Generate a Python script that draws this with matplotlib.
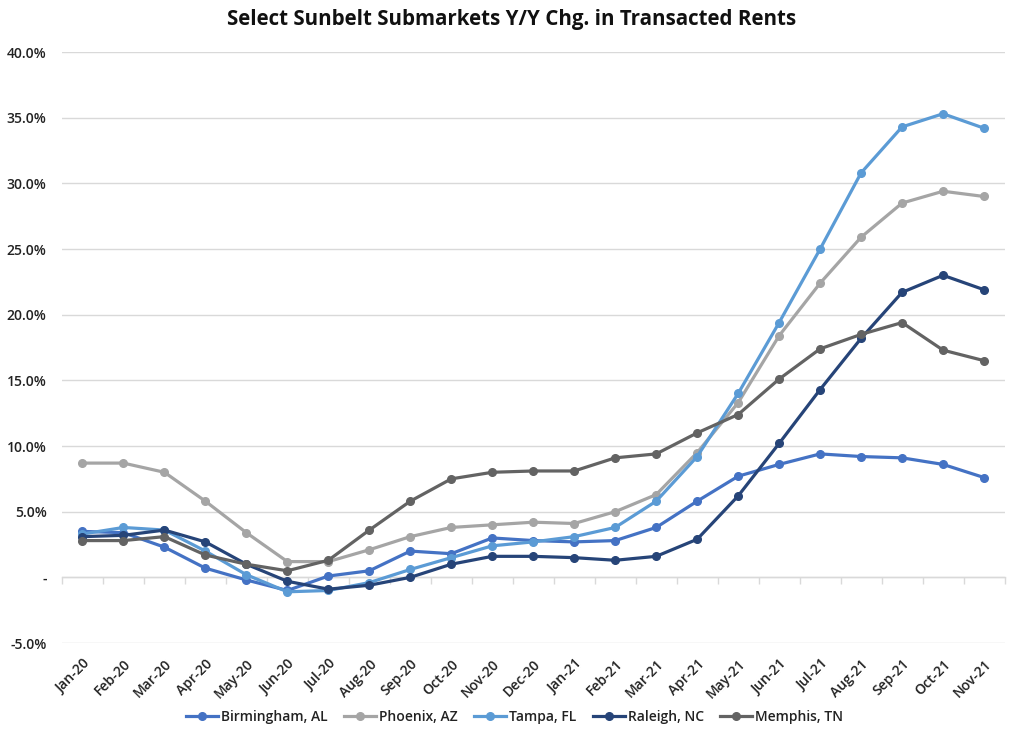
import matplotlib
matplotlib.use("Agg")
import matplotlib.pyplot as plt
from matplotlib.ticker import FuncFormatter

months = ["Jan-20", "Feb-20", "Mar-20", "Apr-20", "May-20", "Jun-20", "Jul-20", "Aug-20",
          "Sep-20", "Oct-20", "Nov-20", "Dec-20", "Jan-21", "Feb-21", "Mar-21", "Apr-21",
          "May-21", "Jun-21", "Jul-21", "Aug-21", "Sep-21", "Oct-21", "Nov-21"]

birmingham = [3.5, 3.4, 2.3, 0.7, -0.2, -1.0, 0.1, 0.5, 2.0, 1.8, 3.0, 2.8, 2.7, 2.8,
              3.8, 5.8, 7.7, 8.6, 9.4, 9.2, 9.1, 8.6, 7.6]
phoenix = [8.7, 8.7, 8.0, 5.8, 3.4, 1.2, 1.2, 2.1, 3.1, 3.8, 4.0, 4.2, 4.1, 5.0,
           6.3, 9.5, 13.3, 18.4, 22.4, 25.9, 28.5, 29.4, 29.0]
tampa = [3.3, 3.8, 3.6, 2.0, 0.2, -1.1, -1.0, -0.4, 0.6, 1.5, 2.4, 2.7, 3.1, 3.8,
         5.8, 9.2, 14.0, 19.4, 25.0, 30.8, 34.3, 35.3, 34.2]
raleigh = [3.1, 3.2, 3.6, 2.7, 1.0, -0.3, -0.9, -0.6, 0.0, 1.0, 1.6, 1.6, 1.5, 1.3,
           1.6, 2.9, 6.2, 10.2, 14.3, 18.2, 21.7, 23.0, 21.9]
memphis = [2.8, 2.8, 3.1, 1.7, 1.0, 0.5, 1.3, 3.6, 5.8, 7.5, 8.0, 8.1, 8.1, 9.1,
           9.4, 11.0, 12.4, 15.1, 17.4, 18.5, 19.4, 17.3, 16.5]

series_names = ["Birmingham, AL", "Phoenix, AZ", "Tampa, FL", "Raleigh, NC", "Memphis, TN"]
series_values = [birmingham, phoenix, tampa, raleigh, memphis]
colors = ["#4472C4", "#A5A5A5", "#5B9BD5", "#264478", "#636363"]

plt.rcParams['font.family'] = ['Open Sans', 'DejaVu Sans']

fig = plt.figure(figsize=(10.24, 7.38), dpi=100)
ax = fig.add_axes([0.0605, 0.1287, 0.9205, 0.8008])

x = list(range(len(months)))
for name, vals, c in zip(series_names, series_values, colors):
    ax.plot(x, vals, color=c, lw=2.3, marker='o', ms=5.5, label=name, zorder=3)

ax.set_xlim(-0.5, len(months) - 0.5)
ax.set_ylim(-5, 40)
ax.set_yticks([-5, 0, 5, 10, 15, 20, 25, 30, 35, 40])
ax.yaxis.set_major_formatter(FuncFormatter(lambda v, p: "-" if abs(v) < 1e-9 else f"{v:.1f}%"))
ax.grid(axis='y', color='#D9D9D9', lw=1, zorder=0)
ax.set_axisbelow(True)
for s in ax.spines.values():
    s.set_visible(False)
ax.tick_params(axis='y', length=0, pad=11, labelsize=10, labelcolor='#222222')
ax.set_xticks(x)
ax.set_xticklabels(months, rotation=45, ha='right', rotation_mode='anchor',
                   fontsize=10, color='#222222')
ax.tick_params(axis='x', length=0, pad=10)
for lbl in ax.get_xticklabels() + ax.get_yticklabels():
    lbl.set_fontweight('semibold')

# zero axis line with tick marks between categories
sec = ax.secondary_xaxis(5 / 45)
sec.spines['bottom'].set_color('#D9D9D9')
sec.spines['bottom'].set_linewidth(1)
sec.set_xticks([i - 0.5 for i in range(len(months) + 1)])
sec.set_xticklabels([])
sec.tick_params(axis='x', length=5, width=1, color='#D9D9D9', direction='out')

fig.suptitle("Select Sunbelt Submarkets Y/Y Chg. in Transacted Rents",
             x=0.5, y=0.988, fontsize=14.8, fontweight='bold', color='#111111')

leg = fig.legend(loc='center', bbox_to_anchor=(0.5025, 0.028), ncol=5, frameon=False,
                 fontsize=10, handlelength=2.3, columnspacing=1.2, handletextpad=0.2)
for t in leg.get_texts():
    t.set_fontweight('semibold')
    t.set_color('#222222')

fig.savefig("out.png", dpi=100)
